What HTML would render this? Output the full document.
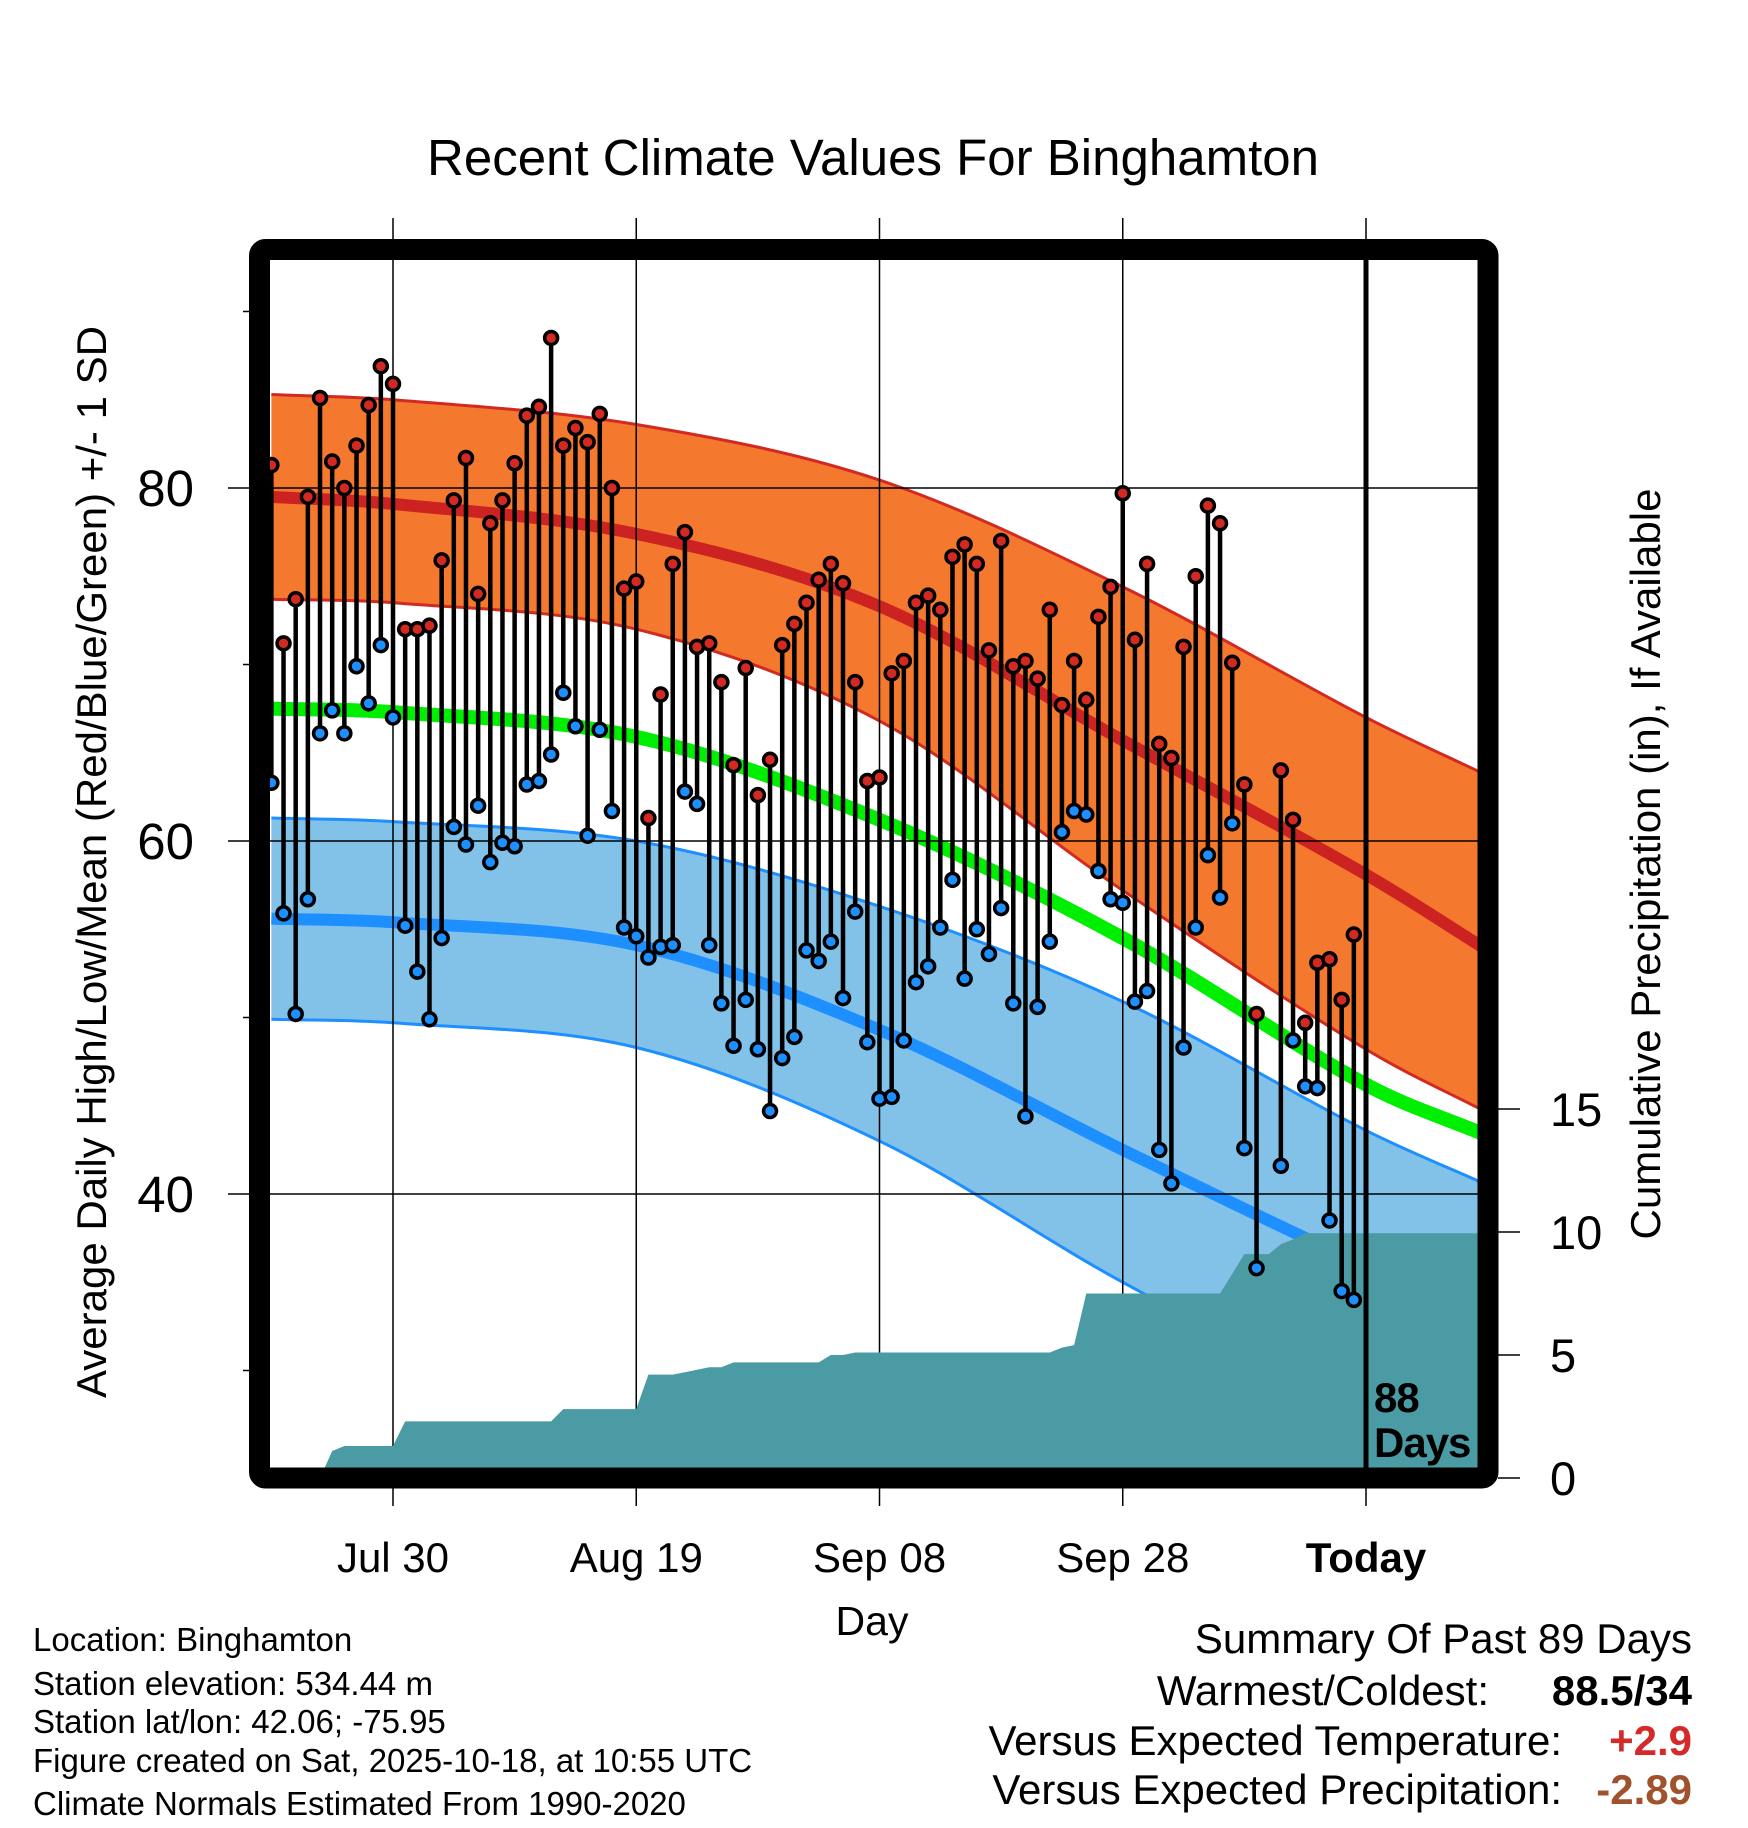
<!DOCTYPE html>
<html><head><meta charset="utf-8">
<style>
html,body{margin:0;padding:0;background:#fff;}
svg{display:block;font-family:"Liberation Sans",sans-serif;}
</style></head>
<body>
<svg id="chart" width="1748" height="1828" viewBox="0 0 1748 1828" xmlns="http://www.w3.org/2000/svg">
<defs><clipPath id="plotclip"><rect x="270" y="260" width="1208" height="1208"/></clipPath></defs>
<text x="873" y="175" font-size="51" text-anchor="middle">Recent Climate Values For Binghamton</text>
<g id="bands" clip-path="url(#plotclip)"></g>
<g id="grid"></g>
<g id="precip" clip-path="url(#plotclip)"></g>
<g id="stems" clip-path="url(#plotclip)"></g>
<g id="axes"></g>
<rect x="259.5" y="249.5" width="1228.5" height="1228.5" rx="6" fill="none" stroke="#000" stroke-width="21"/>
<text x="1374" y="1412" font-size="42" font-weight="bold" letter-spacing="-1">88</text>
<text x="1374" y="1457" font-size="42" font-weight="bold" letter-spacing="-1">Days</text>
<text transform="translate(106,862) rotate(-90)" font-size="42" text-anchor="middle">Average Daily High/Low/Mean (Red/Blue/Green) +/- 1 SD</text>
<text transform="translate(1660,864) rotate(-90)" font-size="42" text-anchor="middle">Cumulative Precipitation (in), If Available</text>
<text x="872" y="1635" font-size="41" text-anchor="middle">Day</text>
<g font-size="33">
<text x="33" y="1651">Location: Binghamton</text>
<text x="33" y="1695">Station elevation: 534.44 m</text>
<text x="33" y="1733">Station lat/lon: 42.06; -75.95</text>
<text x="33" y="1772">Figure created on Sat, 2025-10-18, at 10:55 UTC</text>
<text x="33" y="1815">Climate Normals Estimated From 1990-2020</text>
</g>
<g font-size="42" text-anchor="end">
<text x="1692" y="1653">Summary Of Past 89 Days</text>
<text x="1489" y="1705">Warmest/Coldest:</text>
<text x="1692" y="1705" font-weight="bold">88.5/34</text>
<text x="1562" y="1755">Versus Expected Temperature:</text>
<text x="1692" y="1755" font-weight="bold" fill="#d42a2a">+2.9</text>
<text x="1562" y="1804">Versus Expected Precipitation:</text>
<text x="1692" y="1804" font-weight="bold" fill="#a0522d">-2.89</text>
</g>
</svg>
<script>
// ---- data ----
const highs = [81.3,71.2,73.7,79.5,85.1,81.5,80.0,82.4,84.7,86.9,85.9,72.0,72.0,72.2,75.9,79.3,81.7,74.0,78.0,79.3,81.4,84.1,84.6,88.5,82.4,83.4,82.6,84.2,80.0,74.3,74.7,61.3,68.3,75.7,77.5,71.0,71.2,69.0,64.3,69.8,62.6,64.6,71.1,72.3,73.5,74.8,75.7,74.6,69.0,63.4,63.6,69.5,70.2,73.5,73.9,73.1,76.1,76.8,75.7,70.8,77.0,69.9,70.2,69.2,73.1,67.7,70.2,68.0,72.7,74.4,79.7,71.4,75.7,65.5,64.7,71.0,75.0,79.0,78.0,70.1,63.2,50.2,null,64.0,61.2,49.7,53.1,53.3,51.0,54.7];
const lows = [63.3,55.9,50.2,56.7,66.1,67.4,66.1,69.9,67.8,71.1,67.0,55.2,52.6,49.9,54.5,60.8,59.8,62.0,58.8,59.9,59.7,63.2,63.4,64.9,68.4,66.5,60.3,66.3,61.7,55.1,54.6,53.4,54.0,54.1,62.8,62.1,54.1,50.8,48.4,51.0,48.2,44.7,47.7,48.9,53.8,53.2,54.3,51.1,56.0,48.6,45.4,45.5,48.7,52.0,52.9,55.1,57.8,52.2,55.0,53.6,56.2,50.8,44.4,50.6,54.3,60.5,61.7,61.5,58.3,56.7,56.5,50.9,51.5,42.5,40.6,48.3,55.1,59.2,56.8,61.0,42.6,35.8,null,41.6,48.7,46.1,46.0,38.5,34.5,34.0];
const precipDays = [5,6,11,24,31,34,35,36,38,46,48,65,66,67,79,80,83,84,85];
const precipAmounts = [1.1,0.2,1.0,0.5,1.4,0.1,0.1,0.1,0.2,0.3,0.1,0.2,0.1,2.1,0.8,0.8,0.4,0.2,0.25];
const normalDays = [0,10,30,50,70,90,100];
const normHighUpper = [85.3,85.0,83.6,80.45,74.4,67.0,63.7];
const normHigh = [79.5,79.1,77.4,73.3,65.7,58.1,53.8];
const normHighLower = [73.7,73.5,72.0,66.8,57.2,48.2,44.6];
const normMean = [67.5,67.3,65.9,61.2,54.5,46.2,43.3];
const normLowUpper = [61.3,61.1,60.0,56.3,50.9,43.6,40.5];
const normLow = [55.6,55.4,54.1,49.3,42.5,35.9,33.0];
const normLowLower = [49.9,49.7,48.3,43.0,35.0,28.0,25.0];
const tempTicks = [40,60,80];
const tempMinor = [30,50,70,90];
const precipTicks = [0,5,10,15];
const xTickDays = [10,30,50,70,90];
const xTickLabels = ["Jul 30","Aug 19","Sep 08","Sep 28","Today"];

// ---- scales ----
const xS = d => 393 + (d - 10) * 12.1625;
const yT = t => 488 + (80 - t) * 17.65;
const yP = p => 1478 - p * 24.6;
const NS = "http://www.w3.org/2000/svg";
function mk(tag, parent){ const e=document.createElementNS(NS,tag); parent.appendChild(e); return e; }
function smooth(pts){
  let d = "M"+pts[0][0]+","+pts[0][1];
  for(let i=0;i<pts.length-1;i++){
    const p0=pts[Math.max(i-1,0)],p1=pts[i],p2=pts[i+1],p3=pts[Math.min(i+2,pts.length-1)];
    const h=p2[0]-p1[0];
    const m1=(p2[1]-p0[1])/(p2[0]-p0[0]||1), m2=(p3[1]-p1[1])/(p3[0]-p1[0]||1);
    const c1=[p1[0]+h/3,p1[1]+m1*h/3];
    const c2=[p2[0]-h/3,p2[1]-m2*h/3];
    d+=" C"+c1[0]+","+c1[1]+" "+c2[0]+","+c2[1]+" "+p2[0]+","+p2[1];
  }
  return d;
}
const ptsOf = arr => normalDays.map((d,i)=>[xS(d), yT(arr[i])]);
function bandPath(up, lo){
  const a = ptsOf(up), b = ptsOf(lo).reverse();
  let d = smooth(a);
  d += " L"+b[0][0]+","+b[0][1];
  d += smooth(b).replace(/^M[^C]*/,"");
  return d+" Z";
}
const bands = document.getElementById('bands');
let e = mk('path', bands);
e.setAttribute('d', bandPath(normHighUpper, normHighLower));
e.setAttribute('fill', '#f4782e');


e = mk('path', bands);
e.setAttribute('d', bandPath(normLowUpper, normLowLower));
e.setAttribute('fill', '#82c1e8');


const lines = [
  [normHighUpper,'#d22a22',3,'high-upper-sd-line'],
  [normHighLower,'#d22a22',3,'high-lower-sd-line'],
  [normHigh,'#cc2222',12,'normal-high-line'],
  [normMean,'#00ee00',14,'normal-mean-line'],
  [normLowUpper,'#1e8fff',3,'low-upper-sd-line'],
  [normLowLower,'#1e8fff',3,'low-lower-sd-line'],
  [normLow,'#1e8fff',12,'normal-low-line']
];
lines.forEach(l=>{
  const p = mk('path', bands);
  p.setAttribute('d', smooth(ptsOf(l[0])));
  p.setAttribute('fill','none');
  p.setAttribute('stroke',l[1]);
  p.setAttribute('stroke-width',l[2]);
  
  
});
// grid
const grid = document.getElementById('grid');
tempTicks.forEach(t=>{
  const g = mk('line', grid);
  g.setAttribute('x1',228); g.setAttribute('x2',1478);
  g.setAttribute('y1',yT(t)); g.setAttribute('y2',yT(t));
  g.setAttribute('stroke','#000'); g.setAttribute('stroke-width',1.5);
  
  
  const tx = mk('text', grid);
  tx.setAttribute('x',194); tx.setAttribute('y',yT(t)+18);
  tx.setAttribute('font-size',51); tx.setAttribute('text-anchor','end');
  tx.textContent = t;
  
  
});
tempMinor.forEach(t=>{
  const g = mk('line', grid);
  g.setAttribute('x1',243); g.setAttribute('x2',250);
  g.setAttribute('y1',yT(t)); g.setAttribute('y2',yT(t));
  g.setAttribute('stroke','#000'); g.setAttribute('stroke-width',1.5);
  
  
});
xTickDays.forEach((d,i)=>{
  const g = mk('line', grid);
  g.setAttribute('x1',xS(d)); g.setAttribute('x2',xS(d));
  g.setAttribute('y1',218); g.setAttribute('y2',1506);
  g.setAttribute('stroke','#000'); g.setAttribute('stroke-width',1.5);
  
  
  const tx = mk('text', grid);
  tx.setAttribute('x',xS(d)); tx.setAttribute('y',1572);
  tx.setAttribute('font-size',42); tx.setAttribute('text-anchor','middle');
  if(i===xTickLabels.length-1) tx.setAttribute('font-weight','bold');
  tx.textContent = xTickLabels[i];
  
  
});
// precipitation
const cum = []; let s = 0;
for(let i=0;i<highs.length;i++){ const k=precipDays.indexOf(i); if(k>=0) s+=precipAmounts[k]; cum.push(s); }
let pd = "M"+xS(0)+","+yP(0);
cum.forEach((c,i)=>{ pd += " L"+xS(i)+","+yP(c); });
pd += " L1480,"+yP(cum[cum.length-1])+" L1480,1480 L"+xS(0)+",1480 Z";
const pa = mk('path', document.getElementById('precip'));
pa.setAttribute('d', pd);
pa.setAttribute('fill', '#4a9ba4');


// stems
const st = document.getElementById('stems');
const tl = mk('line', st);
tl.setAttribute('x1',xS(90)); tl.setAttribute('x2',xS(90));
tl.setAttribute('y1',250); tl.setAttribute('y2',1480);
tl.setAttribute('stroke','#000'); tl.setAttribute('stroke-width',5);


highs.forEach((h,i)=>{
  if(h===null||lows[i]===null) return;
  const x = xS(i);
  const ln = mk('line', st);
  ln.setAttribute('x1',x); ln.setAttribute('x2',x);
  ln.setAttribute('y1',yT(h)); ln.setAttribute('y2',yT(lows[i]));
  ln.setAttribute('stroke','#000'); ln.setAttribute('stroke-width',4.5);
  
  
  const lo = mk('circle', st);
  lo.setAttribute('cx',x); lo.setAttribute('cy',yT(lows[i])); lo.setAttribute('r',6.5);
  lo.setAttribute('fill','#1e8fff'); lo.setAttribute('stroke','#000'); lo.setAttribute('stroke-width',3.5);
  
  
  const hi = mk('circle', st);
  hi.setAttribute('cx',x); hi.setAttribute('cy',yT(h)); hi.setAttribute('r',6.5);
  hi.setAttribute('fill','#d22a22'); hi.setAttribute('stroke','#000'); hi.setAttribute('stroke-width',3.5);
  
  
});
// right axis
const ax = document.getElementById('axes');
precipTicks.forEach(p=>{
  const t = mk('line', ax);
  t.setAttribute('x1',1498); t.setAttribute('x2',1520);
  t.setAttribute('y1',yP(p)); t.setAttribute('y2',yP(p));
  t.setAttribute('stroke','#000'); t.setAttribute('stroke-width',1.5);
  
  
  const tx = mk('text', ax);
  tx.setAttribute('x',1550); tx.setAttribute('y',yP(p)+17);
  tx.setAttribute('font-size',47);
  tx.textContent = p;
  
  
});
</script>
</body></html>
